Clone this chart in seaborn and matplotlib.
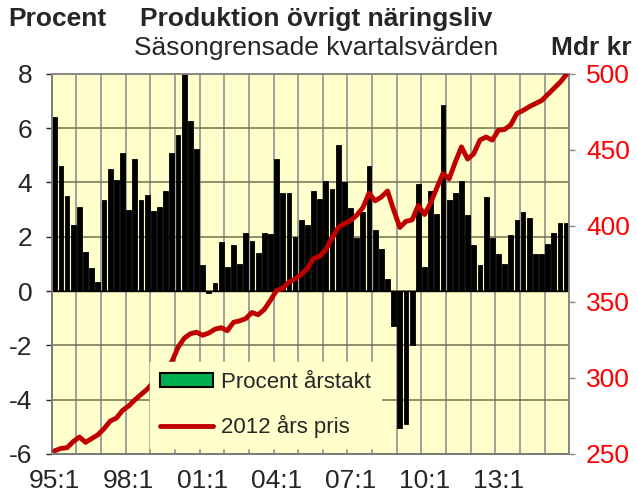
import numpy as np
import pandas as pd
import matplotlib
matplotlib.use("Agg")
import matplotlib.pyplot as plt
import seaborn as sns
from matplotlib.patches import Patch
from matplotlib.lines import Line2D

# Kvartal 1995:1 - 2015:4
years = list(range(1995, 2016))
quarters = [f"{str(y)[2:]}:{q}" for y in years for q in range(1, 5)]

# Procent årstakt (staplar)
procent = [6.4, 4.6, 3.5, 2.45, 3.1, 1.45, 0.85, 0.35, 3.35, 4.5,
           4.1, 5.1, 3.0, 4.85, 3.35, 3.55, 2.95, 3.1, 3.7, 5.1,
           5.75, 8.3, 6.25, 5.25, 0.95, -0.08, 0.3, 1.8, 0.9, 1.7,
           1.0, 2.15, 1.85, 1.4, 2.15, 2.1, 4.85, 3.6, 3.6, 2.0,
           2.6, 2.45, 3.7, 3.4, 4.05, 3.75, 5.4, 4.0, 3.05, 1.95,
           2.9, 4.6, 2.25, 1.55, 0.45, -1.3, -5.05, -4.9, -2.0, 3.95,
           0.9, 3.7, 2.85, 6.85, 3.35, 3.6, 4.05, 2.8, 1.7, 0.95,
           3.45, 1.95, 1.35, 1.0, 2.05, 2.6, 2.9, 2.7, 1.35, 1.35,
           1.75, 2.15, 2.5, 2.5]

# 2012 års pris, mdr kr (linje)
mdr_kr = [252, 253.5, 254, 258, 261, 257.5, 260, 262.5, 266.5, 271.5,
          273.5, 278.5, 281.5, 285.5, 289, 292.5, 297, 301.5, 306, 310.5,
          320, 326, 329, 330, 328, 329.5, 332, 333, 331, 336.5,
          337.5, 339, 343, 341.5, 345, 351, 357.5, 359, 363, 365,
          368, 372, 378.5, 380, 384.5, 392, 399, 401.5, 403.5, 407,
          412, 421.5, 416.5, 419, 423, 410.5, 399, 403, 404, 413.5,
          407.5, 415, 425, 434.5, 431, 442, 452, 444, 447.5, 456.5,
          458.5, 456.5, 463, 463.5, 466.5, 474, 476, 478.5, 480.5, 482.5,
          486.5, 490.5, 494.5, 499.5]

df = pd.DataFrame({"kvartal": quarters, "procent": procent,
                   "mdr": mdr_kr, "pos": np.arange(len(quarters))})

sns.set_style("white")
plt.rcParams["font.family"] = ["Liberation Sans", "DejaVu Sans"]
plt.rcParams["axes.unicode_minus"] = False

bg = "#FFFFCC"
red_line = "#C00000"

fig = plt.figure(figsize=(6.38, 5.01), dpi=100)
ax = fig.add_axes([0.081, 0.0943, 0.8113, 0.758])
ax.set_facecolor(bg)

sns.barplot(data=df, x="kvartal", y="procent", color="black",
            width=0.78, saturation=1, edgecolor="black", linewidth=0.6,
            ax=ax, zorder=3)
ax.axhline(0, color="black", lw=1, zorder=4)

ax.set_xlim(-0.5, len(quarters) - 0.5)
ax.set_ylim(-6, 8)
ax.set_yticks(np.arange(-6, 9, 2))
ax.set_xticks(np.arange(0, len(quarters), 12))
ax.set_xticklabels(quarters[::12])
ax.set_xticks(np.arange(3.5, len(quarters) - 1, 4), minor=True)
ax.grid(False)
ax.grid(axis="x", which="minor", color="#999999", lw=1.3, zorder=1)
ax.grid(axis="y", which="major", color="#707050", lw=1.1, zorder=1)
ax.set_xlabel("")
ax.set_ylabel("")
ax.tick_params(axis="x", which="both", length=0, pad=11, labelsize=19)
ax.tick_params(axis="y", length=4, width=1, pad=10, labelsize=19, direction="out")

for side in ["left", "bottom"]:
    ax.spines[side].set_color("black")
for side in ["top", "right"]:
    ax.spines[side].set_color("#888888")
for s in ax.spines.values():
    s.set_linewidth(1.3)

ax2 = ax.twinx()
sns.lineplot(data=df, x="pos", y="mdr", color=red_line, lw=3.5, ax=ax2,
             zorder=5)
ax2.set_ylim(250, 500)
ax2.set_yticks(np.arange(250, 501, 50))
ax2.set_xlim(-0.5, len(quarters) - 0.5)
ax2.set_ylabel("")
ax2.set_xlabel("")
ax2.tick_params(axis="y", colors="#FF0000", labelsize=19, length=4,
                width=1, pad=8)
ax2.tick_params(axis="y", color="#888888")
for s in ax2.spines.values():
    s.set_linewidth(1.3)
    s.set_color("#888888")

handles = [Patch(facecolor="#00B050", edgecolor="black", lw=1.5,
                 label="Procent årstakt"),
           Line2D([0], [0], color=red_line, lw=3.5, label="2012 års pris")]
leg = ax2.legend(handles=handles, loc="lower left",
                 bbox_to_anchor=(0.19, 0.015), frameon=True, fontsize=16,
                 handlelength=2.4, handleheight=0.6, handletextpad=0.35,
                 labelspacing=1.0, borderpad=0.45, borderaxespad=0,
                 fancybox=False)
leg.get_frame().set_facecolor(bg)
leg.get_frame().set_edgecolor(bg)
leg.get_frame().set_alpha(1)
leg.set_zorder(10)

fig.text(0.013, 0.962, "Procent", fontsize=19, fontweight="bold",
         ha="left", va="center")
fig.text(0.495, 0.962, "Produktion övrigt näringsliv", fontsize=19,
         fontweight="bold", ha="center", va="center")
fig.text(0.496, 0.904, "Säsongrensade kvartalsvärden", fontsize=19,
         ha="center", va="center")
fig.text(0.927, 0.904, "Mdr kr", fontsize=19, fontweight="bold",
         ha="center", va="center")

fig.savefig("out.png", dpi=100)
